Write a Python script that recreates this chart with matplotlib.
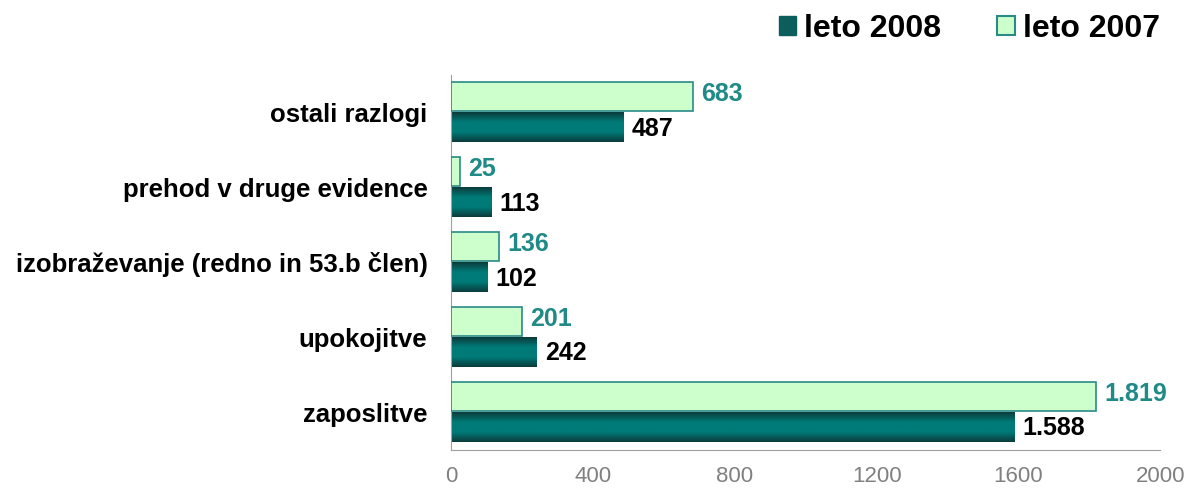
import numpy as np
import matplotlib.pyplot as plt
from matplotlib.colors import LinearSegmentedColormap
from matplotlib.patches import Patch

plt.rcParams['font.family'] = ['Liberation Sans', 'DejaVu Sans']

categories = ['ostali razlogi', 'prehod v druge evidence',
              'izobraževanje (redno in 53.b člen)', 'upokojitve', 'zaposlitve']
leto_2007 = [683, 25, 136, 201, 1819]
leto_2008 = [487, 113, 102, 242, 1588]
labels_2007 = ['683', '25', '136', '201', '1.819']
labels_2008 = ['487', '113', '102', '242', '1.588']
xticks = [0, 400, 800, 1200, 1600, 2000]

fig = plt.figure(figsize=(11.84, 4.90), dpi=100)
ax = fig.add_axes([0.381, 0.082, 0.599, 0.765])

n = len(categories)
y = np.arange(n)
h = 0.39

# dark gradient for the 2008 bars
cmap = LinearSegmentedColormap.from_list('teal', ['#0b3c3c', '#007b78', '#007b78', '#0b3c3c'])
grad = np.linspace(0, 1, 64).reshape(-1, 1)

bars07 = ax.barh(y - h / 2 - 0.02, leto_2007, height=h, color='#ccffcc', edgecolor='#2a8a86', linewidth=1.2, zorder=3)
bars08 = ax.barh(y + h / 2, leto_2008, height=h, color='none', edgecolor='none', zorder=3)
for b in bars08:
    x0, y0, w, hh = b.get_x(), b.get_y(), b.get_width(), b.get_height()
    ax.imshow(grad, cmap=cmap, aspect='auto', extent=(x0, x0 + w, y0 + hh, y0), zorder=2)

for i in range(n):
    ax.text(leto_2007[i] + 22, y[i] - h / 2 - 0.05, labels_2007[i], va='center', ha='left',
            fontsize=18, fontweight='bold', color='#1f8a86')
    ax.text(leto_2008[i] + 22, y[i] + h / 2 + 0.02, labels_2008[i], va='center', ha='left',
            fontsize=18, fontweight='bold', color='black')

ax.set_xlim(0, 2000)
ax.set_ylim(n - 0.5, -0.5)
ax.set_yticks(y)
ax.set_yticklabels(categories, fontsize=18.5, fontweight='bold')
ax.set_xticks(xticks)
ax.set_xticklabels([str(t) for t in xticks], fontsize=16, color='#808080')
ax.tick_params(axis='both', length=0)
ax.tick_params(axis='y', pad=17)
ax.tick_params(axis='x', pad=12)
for s in ['top', 'right']:
    ax.spines[s].set_visible(False)
ax.spines['left'].set_color('#a0a0a0')
ax.spines['bottom'].set_color('#a0a0a0')

handles = [Patch(facecolor='#0b5e5c', edgecolor='#0b5e5c'),
           Patch(facecolor='#ccffcc', edgecolor='#2a8a86', linewidth=1.5)]
fig.legend(handles, ['leto 2008', 'leto 2007'], loc='upper right', bbox_to_anchor=(1.004, 1.03),
           ncol=2, frameon=False, prop={'size': 23, 'weight': 'bold'},
           handlelength=0.55, handleheight=0.55, handletextpad=0.25, columnspacing=1.75)

fig.savefig('out.png', dpi=100)
